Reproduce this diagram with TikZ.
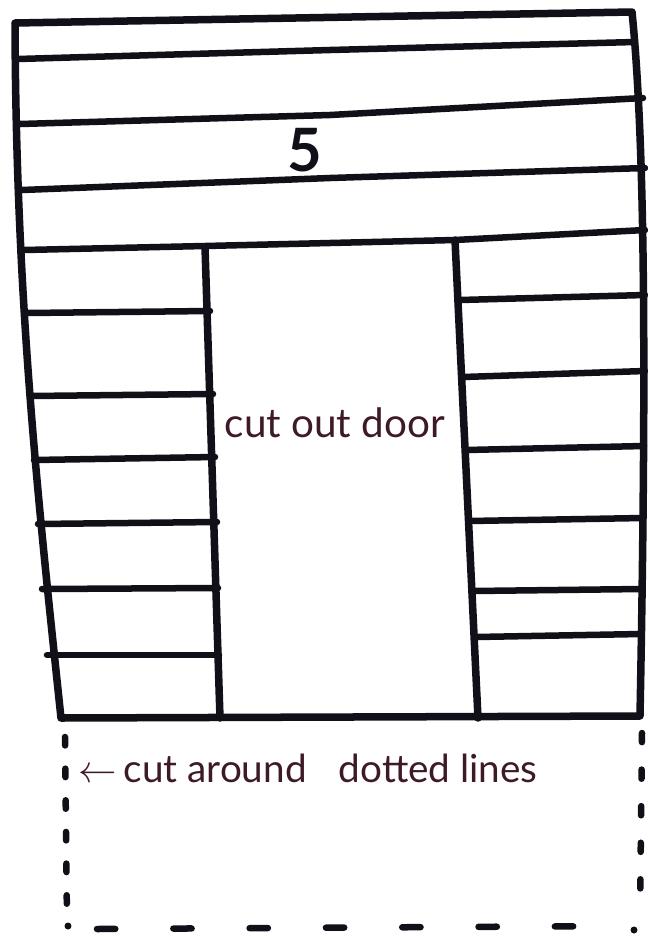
\documentclass[tikz,border=0pt]{standalone}
\usepackage{fontspec}
\setmainfont{Lato}
\definecolor{ink}{HTML}{111018}
\definecolor{pen}{HTML}{3E1A26}
\begin{document}
\begin{tikzpicture}[x=0.01cm,y=-0.01cm,
  board/.style={ink,line width=0.075cm,line cap=round,line join=round},
  plank/.style={ink,line width=0.065cm,line cap=round},
  cutline/.style={ink,line width=0.065cm,line cap=round},
  note/.style={pen,font=\fontsize{11.5}{13}\selectfont,inner sep=0pt,anchor=base west}]
\useasboundingbox (0,0) rectangle (647,936);
\fill[white] (0,0) rectangle (647,936);
% outer frame
\draw[board] (61,718) .. controls (38,500) and (16,300) .. (15,23)
  -- (632,12) .. controls (646,150) and (646,400) .. (640,716) -- cycle;
% full-width planks
\draw[plank] (18,59) -- (330,50) -- (635,42);
\draw[plank] (20,124) -- (330,115) -- (643,98);
\draw[plank] (22,190) -- (330,178) -- (645,168);
\draw[plank] (24,250) -- (205,246) -- (455,240) -- (645,230);
% door
\draw[board] (205,247) -- (220,718);
\draw[board] (455,240) -- (478,718);
% left planks
\draw[plank] (27,313) -- (210,311);
\draw[plank] (31,396) -- (213,394);
\draw[plank] (34,460) -- (215,457);
\draw[plank] (38,524) -- (217,522);
\draw[plank] (42,589) -- (218,588);
\draw[plank] (47,655) -- (219,655);
% right planks
\draw[plank] (460,300) -- (645,295);
\draw[plank] (463,377) -- (645,371);
\draw[plank] (466,450) -- (644,446);
\draw[plank] (469,521) -- (643,518);
\draw[plank] (473,591) -- (642,589);
\draw[plank] (476,637) -- (641,634);
% dotted cut lines (dash lengths in pt: 1px = 0.2845pt)
\draw[cutline,dash pattern=on 2.4pt off 6.6pt] (65,737) -- (67,922);
\draw[cutline,dash pattern=on 2.6pt off 7.8pt] (642,733) -- (640,915);
\draw[cutline,dash pattern=on 5.2pt off 16.5pt] (97,929) -- (625,926);
\fill[ink] (68,926) circle (3.5);
\fill[ink] (634,930) circle (3.5);
% labels
\node[ink,font=\fontsize{17}{17}\selectfont\bfseries] (five) at (305,150) {5};
\node[note] (door) at (224,437) {cut out door};
\node[note,font=\fontsize{11}{13}\selectfont] (cut) at (78,782) {$\leftarrow$\,cut around\hspace{3.2mm}dotted lines};
\end{tikzpicture}
\end{document}
